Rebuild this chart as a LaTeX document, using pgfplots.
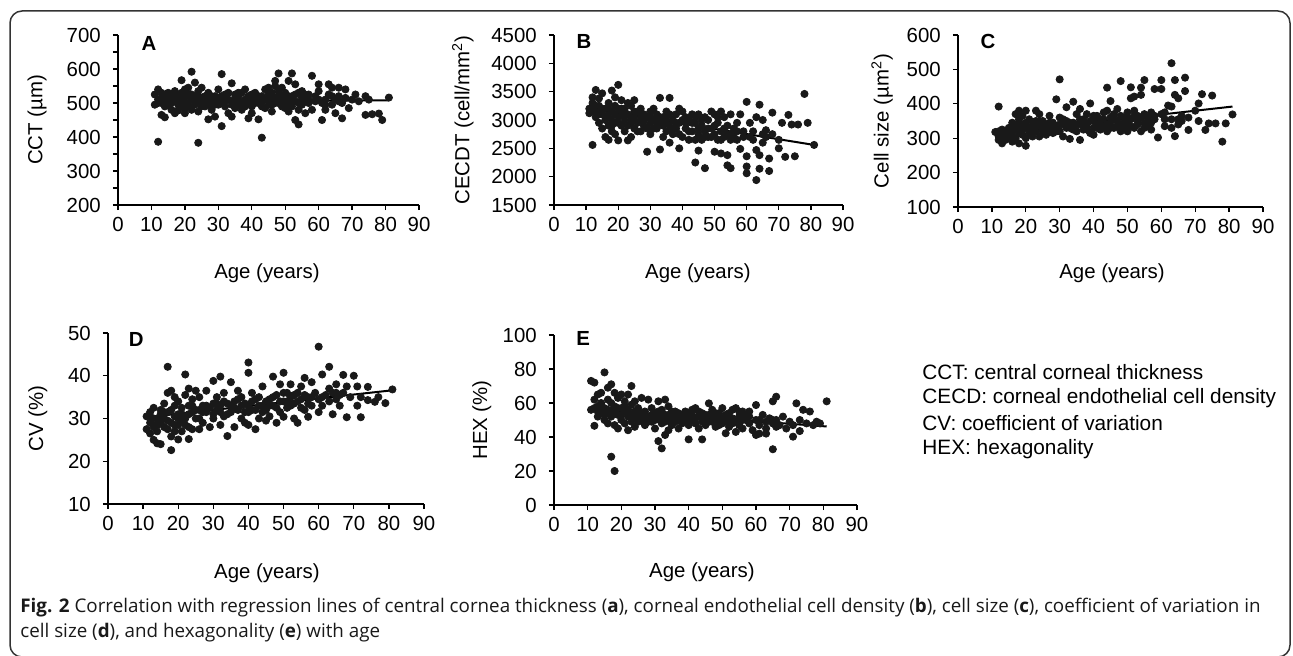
\documentclass[border=0pt]{standalone}
\usepackage{fontspec}
\setmainfont{Liberation Sans}
\newfontfamily\capfont{Open Sans}
\usepackage{pgfplots}
\usepackage{pgfplotstable}
\pgfplotsset{compat=1.18}
\newcommand{\fs}{\fontsize{10.2}{12}\selectfont}
\definecolor{dot}{gray}{0.1}
\pgfplotsset{
  panel/.style={
    scale only axis, xmin=0, xmax=90, xtick={0,10,...,90},
    axis x line*=bottom, axis y line*=left,
    axis line style={-, line width=0.65pt, black},
    tick align=outside, major tick length=2.6pt, minor tick length=2.6pt,
    tick style={black, line width=0.65pt},
    /pgf/number format/assume math mode=true,
    /pgf/number format/1000 sep={},
    tick label style={font=\fs},
    yticklabel style={xshift=-2.5pt},
    label style={font=\fs},
    clip=false,
  },
  pts/.style={only marks, mark=*, mark size=1.8pt, color=dot},
  reg/.style={no marks, line width=1pt, color=black},
}
\pgfplotstableread[row sep=\\]{x y\\
11 525\\ 11 495\\ 12 540\\ 12 510\\ 12 386\\ 13 530\\ 13 500\\ 13 465\\ 14 458\\ 14 505\\ 14 520\\ 15 495\\ 15 515\\ 16 505\\ 16 480\\ 16 525\\ 17 510\\ 17 470\\ 17 535\\ 18 495\\ 18 520\\ 18 478\\ 19 567\\ 19 505\\ 19 530\\ 19 490\\ 20 540\\ 20 515\\ 20 485\\ 20 470\\ 21 500\\ 21 525\\ 21 545\\ 22 592\\ 22 510\\ 22 480\\ 23 520\\ 23 495\\ 23 560\\ 24 383\\ 24 505\\ 24 535\\ 24 475\\ 25 545\\ 25 500\\ 25 515\\ 26 520\\ 26 490\\ 27 452\\ 27 510\\ 27 530\\ 28 500\\ 28 480\\ 29 520\\ 29 495\\ 29 460\\ 30 515\\ 30 540\\ 31 585\\ 31 432\\ 31 505\\ 32 525\\ 32 490\\ 33 510\\ 33 470\\ 34 558\\ 34 460\\ 35 505\\ 35 525\\ 35 485\\ 36 515\\ 36 495\\ 37 530\\ 37 480\\ 38 510\\ 38 540\\ 39 500\\ 39 455\\ 40 525\\ 40 490\\ 40 470\\ 41 515\\ 41 530\\ 42 500\\ 42 452\\ 43 398\\ 43 520\\ 43 505\\ 44 540\\ 44 485\\ 45 510\\ 45 525\\ 45 545\\ 46 495\\ 46 530\\ 46 475\\ 47 565\\ 47 515\\ 47 550\\ 48 587\\ 48 500\\ 48 535\\ 49 545\\ 49 490\\ 49 520\\ 50 510\\ 50 530\\ 50 485\\ 51 565\\ 51 500\\ 51 475\\ 52 587\\ 52 520\\ 52 490\\ 53 555\\ 53 450\\ 53 505\\ 54 437\\ 54 530\\ 54 480\\ 55 515\\ 55 495\\ 56 525\\ 56 470\\ 57 510\\ 57 500\\ 58 580\\ 58 480\\ 59 520\\ 59 505\\ 60 555\\ 60 535\\ 61 450\\ 61 500\\ 62 510\\ 62 480\\ 63 555\\ 63 525\\ 64 545\\ 64 495\\ 65 470\\ 65 510\\ 66 520\\ 66 545\\ 67 455\\ 67 500\\ 68 540\\ 68 515\\ 69 485\\ 70 510\\ 71 525\\ 72 505\\ 74 465\\ 74 520\\ 75 510\\ 76 467\\ 78 469\\ 79 450\\ 81 516\\
12 500\\ 13 515\\ 14 490\\ 15 530\\ 16 500\\ 17 520\\ 18 505\\ 19 515\\ 20 500\\ 21 490\\ 22 525\\ 23 505\\ 24 520\\ 25 490\\ 26 505\\ 27 495\\ 28 520\\ 29 505\\ 30 495\\ 31 520\\ 32 505\\ 33 530\\ 34 495\\ 35 515\\ 36 530\\ 37 500\\ 38 490\\ 39 520\\ 40 505\\ 41 500\\ 42 520\\ 43 490\\ 44 510\\ 45 495\\ 46 515\\ 47 500\\ 48 520\\ 49 505\\ 50 495\\ 51 520\\ 52 505\\ 53 525\\ 54 500\\ 55 535\\ 56 505\\ 57 525\\ 60 510\\ 62 495\\ 64 520\\ 66 505\\
}\dataA
\pgfplotstableread[row sep=\\]{x y\\
11 3200\\ 11 3120\\ 12 3400\\ 12 2560\\ 12 3300\\ 13 3530\\ 13 3150\\ 13 3050\\ 14 3250\\ 14 2950\\ 14 3380\\ 15 3470\\ 15 3100\\ 15 2850\\ 16 2700\\ 16 3200\\ 16 3000\\ 17 2650\\ 17 3300\\ 17 2900\\ 17 3100\\ 18 3520\\ 18 2800\\ 18 3000\\ 18 3150\\ 19 3400\\ 19 2750\\ 19 2950\\ 19 3250\\ 20 3620\\ 20 2640\\ 20 3050\\ 20 3200\\ 21 2900\\ 21 3350\\ 21 3100\\ 22 3000\\ 22 2800\\ 22 3200\\ 23 3300\\ 23 2640\\ 23 3100\\ 24 2950\\ 24 3250\\ 24 2700\\ 25 3350\\ 25 3050\\ 25 2850\\ 26 3150\\ 26 2950\\ 27 3000\\ 27 2800\\ 27 3200\\ 28 3100\\ 28 2900\\ 29 2440\\ 29 3050\\ 30 2950\\ 30 3150\\ 30 2750\\ 31 3000\\ 31 3200\\ 32 2850\\ 32 3100\\ 33 3390\\ 33 2480\\ 33 2950\\ 34 3050\\ 34 2700\\ 35 2800\\ 35 3150\\ 36 3390\\ 36 2600\\ 36 2900\\ 37 3000\\ 37 2750\\ 38 3100\\ 38 2850\\ 39 2500\\ 39 3200\\ 39 2950\\ 40 3150\\ 40 2700\\ 41 3050\\ 41 2850\\ 42 3000\\ 42 2650\\ 43 3100\\ 43 2800\\ 44 2650\\ 44 2950\\ 44 2250\\ 45 2460\\ 45 3100\\ 45 2750\\ 46 2900\\ 46 2650\\ 47 2150\\ 47 3050\\ 47 2800\\ 48 3000\\ 48 2700\\ 49 3150\\ 49 2850\\ 50 2440\\ 50 3100\\ 50 2750\\ 51 2950\\ 51 2650\\ 52 3150\\ 52 2410\\ 52 2800\\ 53 3050\\ 53 2700\\ 54 2200\\ 54 2900\\ 54 2380\\ 55 2150\\ 55 3100\\ 55 2750\\ 56 2850\\ 57 2950\\ 57 2650\\ 58 2490\\ 58 3100\\ 59 2800\\ 60 3320\\ 60 2360\\ 60 2180\\ 60 2060\\ 61 2700\\ 61 2950\\ 62 2800\\ 63 2470\\ 63 1940\\ 63 3050\\ 64 2380\\ 64 3270\\ 64 2140\\ 65 2750\\ 65 3000\\ 66 2820\\ 67 2320\\ 67 2100\\ 68 3130\\ 68 2750\\ 70 2500\\ 70 2650\\ 71 2950\\ 72 2350\\ 73 3090\\ 74 2920\\ 75 2360\\ 76 2920\\ 78 3460\\ 79 2950\\ 81 2560\\
12 3150\\ 13 3250\\ 14 3100\\ 15 3200\\ 16 3050\\ 17 3200\\ 18 2900\\ 19 3100\\ 20 2950\\ 21 3200\\ 22 3100\\ 23 2900\\ 24 3050\\ 25 3150\\ 26 2800\\ 27 3100\\ 28 3000\\ 29 2850\\ 30 3050\\ 31 2850\\ 32 2950\\ 33 3050\\ 34 2900\\ 35 3000\\ 36 3100\\ 37 2850\\ 38 2950\\ 39 2750\\ 40 3000\\ 41 2950\\ 42 2800\\ 43 2950\\ 44 3050\\ 45 2850\\ 46 3000\\ 47 2700\\ 48 2850\\ 49 2700\\ 50 2900\\ 51 3050\\ 52 2650\\ 53 2850\\ 54 2750\\ 55 2650\\ 56 2700\\ 57 2800\\ 59 2700\\ 62 2650\\ 65 2600\\ 66 2700\\
}\dataB
\pgfplotstableread[row sep=\\]{x y\\
11 318\\ 12 320\\ 12 392\\ 12 295\\ 13 285\\ 13 310\\ 14 305\\ 14 320\\ 15 300\\ 15 330\\ 16 310\\ 16 345\\ 16 290\\ 17 370\\ 17 325\\ 17 300\\ 18 355\\ 18 335\\ 18 285\\ 18 380\\ 19 310\\ 19 340\\ 19 365\\ 20 278\\ 20 330\\ 20 380\\ 20 300\\ 21 355\\ 21 315\\ 22 340\\ 22 305\\ 23 320\\ 23 380\\ 23 350\\ 24 305\\ 24 335\\ 24 370\\ 25 320\\ 25 350\\ 26 340\\ 26 310\\ 27 365\\ 27 330\\ 28 345\\ 28 315\\ 29 413\\ 29 335\\ 30 471\\ 30 360\\ 30 320\\ 31 340\\ 31 305\\ 32 390\\ 32 350\\ 33 298\\ 33 330\\ 34 406\\ 34 345\\ 35 320\\ 35 370\\ 36 295\\ 36 385\\ 36 340\\ 37 355\\ 37 325\\ 38 340\\ 38 370\\ 39 315\\ 39 401\\ 40 350\\ 40 310\\ 40 330\\ 41 365\\ 41 340\\ 42 325\\ 42 355\\ 43 375\\ 43 335\\ 44 447\\ 44 380\\ 44 320\\ 45 345\\ 45 408\\ 45 360\\ 46 330\\ 46 370\\ 47 350\\ 47 385\\ 48 466\\ 48 340\\ 48 320\\ 49 360\\ 49 330\\ 50 375\\ 50 320\\ 50 345\\ 51 448\\ 51 416\\ 51 355\\ 52 421\\ 52 380\\ 52 330\\ 53 365\\ 53 340\\ 54 447\\ 54 426\\ 54 320\\ 55 469\\ 55 370\\ 55 345\\ 56 335\\ 57 375\\ 57 325\\ 58 443\\ 58 355\\ 59 302\\ 60 443\\ 60 469\\ 60 370\\ 61 335\\ 61 355\\ 62 395\\ 63 518\\ 63 392\\ 63 330\\ 64 426\\ 64 469\\ 64 306\\ 65 416\\ 65 355\\ 66 350\\ 67 437\\ 67 476\\ 68 324\\ 68 360\\ 70 380\\ 71 401\\ 71 350\\ 72 428\\ 73 324\\ 74 343\\ 75 424\\ 76 343\\ 78 290\\ 79 343\\ 81 369\\
12 305\\ 13 325\\ 14 295\\ 15 315\\ 16 325\\ 17 340\\ 18 315\\ 19 325\\ 20 345\\ 21 330\\ 22 320\\ 23 335\\ 24 350\\ 25 335\\ 26 325\\ 27 345\\ 28 330\\ 29 320\\ 30 340\\ 31 355\\ 32 330\\ 33 345\\ 34 325\\ 35 340\\ 36 355\\ 37 340\\ 38 325\\ 39 350\\ 40 365\\ 41 330\\ 42 345\\ 43 355\\ 44 340\\ 45 330\\ 46 355\\ 47 335\\ 48 365\\ 49 345\\ 50 360\\ 51 335\\ 52 365\\ 53 350\\ 54 360\\ 55 330\\ 56 360\\ 57 345\\ 58 365\\ 61 375\\ 63 355\\ 65 340\\ 66 365\\
}\dataC
\pgfplotstableread[row sep=\\]{x y\\
11 27.5\\ 11 30.5\\ 12 29\\ 12 26.5\\ 12 31.5\\ 13 32.5\\ 13 28\\ 13 25\\ 14 24.2\\ 14 30\\ 14 27\\ 15 24\\ 15 31\\ 15 29\\ 16 33.5\\ 16 28\\ 16 30\\ 17 42.1\\ 17 36\\ 17 27.5\\ 17 31.5\\ 18 22.6\\ 18 36.5\\ 18 29\\ 18 25.8\\ 19 33\\ 19 27\\ 19 30.5\\ 19 35\\ 20 25.1\\ 20 31\\ 20 28.5\\ 20 34\\ 21 29.5\\ 21 32.5\\ 21 27\\ 22 40.3\\ 22 30\\ 22 35.5\\ 23 25.2\\ 23 28\\ 23 33\\ 23 37\\ 24 31.5\\ 24 27.5\\ 24 34.5\\ 25 36.5\\ 25 30\\ 26 32\\ 26 27.5\\ 26 35\\ 27 33\\ 27 29\\ 28 36.5\\ 28 31.5\\ 29 28\\ 30 33.5\\ 30 38.8\\ 30 31\\ 31 32\\ 31 35\\ 32 39.8\\ 32 28.5\\ 32 33\\ 33 30.5\\ 33 36\\ 34 25.9\\ 34 33.5\\ 35 38.5\\ 35 31.5\\ 36 28\\ 36 34\\ 37 36.5\\ 37 32\\ 38 30\\ 38 35\\ 39 33.5\\ 39 29\\ 40 43.1\\ 40 40.7\\ 40 31.5\\ 40 28.5\\ 41 34\\ 41 36\\ 42 27.5\\ 42 32\\ 43 30\\ 43 35\\ 44 33\\ 44 37.5\\ 45 29.5\\ 45 32\\ 46 34.5\\ 46 30.5\\ 47 39.8\\ 47 33\\ 48 35.5\\ 48 29\\ 49 38\\ 49 31.5\\ 50 40.7\\ 50 34\\ 50 30.4\\ 51 36\\ 51 32.5\\ 52 35\\ 52 38\\ 53 33.5\\ 53 30\\ 54 36\\ 54 29\\ 55 34.5\\ 55 37.5\\ 56 39.5\\ 56 32\\ 57 35\\ 57 30.4\\ 58 38.5\\ 58 33\\ 59 36\\ 60 46.8\\ 60 31.5\\ 60 34.5\\ 61 40.3\\ 61 33\\ 62 35.5\\ 63 42.1\\ 63 37\\ 64 36\\ 64 31\\ 65 34.5\\ 65 38\\ 66 33\\ 67 40.2\\ 67 36\\ 68 30.3\\ 68 37.5\\ 69 35\\ 70 40\\ 71 33\\ 71 37.5\\ 72 30.3\\ 72 35\\ 74 37.4\\ 74 34.3\\ 76 33.9\\ 77 35\\ 79 33.6\\ 81 36.8\\
12 30.5\\ 13 30\\ 14 28.5\\ 15 32\\ 16 31.5\\ 17 29.5\\ 18 32\\ 19 28.5\\ 20 30\\ 21 31\\ 22 28.5\\ 23 31\\ 24 33\\ 25 32\\ 26 30\\ 27 31.5\\ 28 33\\ 29 32.5\\ 30 30\\ 31 33.5\\ 32 31.5\\ 33 34\\ 34 31\\ 35 33\\ 36 32.5\\ 37 34.5\\ 38 33\\ 39 31.5\\ 40 33\\ 41 32\\ 42 34.5\\ 43 33\\ 44 31.5\\ 45 34\\ 46 33\\ 47 35\\ 48 32.5\\ 49 34\\ 50 36\\ 51 34\\ 52 33\\ 53 35.5\\ 54 34\\ 55 32.5\\ 56 35.5\\ 57 33.5\\ 58 35\\ 61 35\\ 63 34\\ 65 36\\ 66 35.5\\
}\dataD
\pgfplotstableread[row sep=\\]{x y\\
11 73\\ 11 56\\ 12 72\\ 12 62\\ 12 46.6\\ 13 58\\ 13 65\\ 13 52\\ 14 60\\ 14 54\\ 14 66\\ 15 78\\ 15 50\\ 15 57\\ 16 69\\ 16 62\\ 16 48\\ 17 71\\ 17 28.4\\ 17 55\\ 17 52\\ 18 20\\ 18 66\\ 18 58\\ 18 47\\ 19 63\\ 19 53\\ 19 45\\ 20 65\\ 20 57\\ 20 50\\ 21 61\\ 21 48\\ 21 55\\ 22 65\\ 22 52\\ 22 44\\ 23 70\\ 23 59\\ 23 49\\ 24 55\\ 24 61\\ 24 46\\ 25 53\\ 25 57\\ 26 50\\ 26 63\\ 27 55\\ 27 47\\ 28 62\\ 28 52\\ 29 49\\ 29 57\\ 30 54\\ 30 45\\ 31 37.6\\ 31 61\\ 31 51\\ 32 33.3\\ 32 56\\ 32 48\\ 33 41.2\\ 33 53\\ 33 62\\ 34 44\\ 34 58\\ 34 50\\ 35 52\\ 35 47\\ 36 55\\ 36 49\\ 37 51\\ 37 45\\ 38 53\\ 38 48\\ 39 50\\ 39 55\\ 40 38.6\\ 40 52\\ 40 47\\ 41 56\\ 41 50\\ 42 57\\ 42 48\\ 43 52\\ 43 45\\ 44 38.6\\ 44 54\\ 44 49\\ 45 51\\ 45 47\\ 46 59.8\\ 46 53\\ 47 49\\ 47 56\\ 48 51\\ 48 46\\ 49 54\\ 49 50\\ 50 57\\ 50 48\\ 51 42.2\\ 51 53\\ 52 50\\ 52 46\\ 53 56\\ 53 48\\ 54 43\\ 54 57\\ 55 52\\ 55 47\\ 56 55\\ 56 45\\ 57 50\\ 58 48\\ 58 52\\ 59 44\\ 60 58.8\\ 60 41.2\\ 60 50\\ 61 42\\ 61 47\\ 62 53\\ 63 45\\ 63 42\\ 64 51\\ 65 32.8\\ 65 61\\ 65 48\\ 66 63.7\\ 66 50\\ 67 47\\ 68 52\\ 69 45\\ 70 49\\ 71 40.2\\ 71 47\\ 72 59.8\\ 73 43.5\\ 73 50\\ 74 56\\ 75 48\\ 76 55\\ 77 47\\ 78 49\\ 79 48\\ 81 61\\
12 57\\ 13 55\\ 14 58\\ 15 53\\ 16 56\\ 17 60\\ 18 54\\ 19 57\\ 20 53\\ 21 58\\ 22 56\\ 23 53\\ 24 51\\ 25 49\\ 26 54\\ 27 51\\ 28 49\\ 29 53\\ 30 50\\ 31 55\\ 32 52\\ 33 49\\ 34 53\\ 35 55\\ 36 51\\ 37 54\\ 38 50\\ 39 52\\ 40 54\\ 41 53\\ 42 51\\ 43 55\\ 44 51\\ 45 53\\ 46 49\\ 47 52\\ 48 54\\ 49 47\\ 50 51\\ 51 49\\ 52 54\\ 53 51\\ 54 49\\ 55 55\\ 56 50\\ 57 53\\ 58 55\\ 61 50\\ 63 49\\ 65 50\\ 66 46\\
}\dataE
\begin{document}
\begin{tikzpicture}
\useasboundingbox (0,0) rectangle (646.5pt,327.5pt);
\draw[line width=0.75pt, black!80, rounded corners=6pt] (5pt,-1pt) rectangle (645pt,322pt);
% Panel A
\begin{axis}[panel, at={(59pt,225pt)}, anchor=south west, width=150.5pt, height=85pt,
  ymin=200, ymax=700, ytick={200,300,...,700}, minor y tick num=1,
  xlabel={Age (years)}, ylabel={CCT (µm)},
  xlabel style={at={(axis description cs:0.495,-0.4)}, anchor=center},
  ylabel style={at={(axis description cs:-0.269,0.5)}, anchor=center}]
\addplot[pts] table {\dataA};
\addplot[reg] coordinates {(11,503) (81,508)};
\node[font=\fs\bfseries] at (axis description cs:0.103,0.953) {A};
\end{axis}
% Panel B
\begin{axis}[panel, at={(277pt,225pt)}, anchor=south west, width=144.5pt, height=85pt,
  ymin=1500, ymax=4500, ytick={1500,2000,...,4500},
  xlabel={Age (years)}, ylabel={CECDT (cell/mm\textsuperscript{2})},
  xlabel style={at={(axis description cs:0.498,-0.4)}, anchor=center},
  ylabel style={at={(axis description cs:-0.315,0.5)}, anchor=center}]
\addplot[pts] table {\dataB};
\addplot[reg] coordinates {(11,3200) (81,2560)};
\node[font=\fs\bfseries] at (axis description cs:0.104,0.959) {B};
\end{axis}
% Panel C
\begin{axis}[panel, at={(479pt,224pt)}, anchor=south west, width=152.5pt, height=86pt,
  ymin=100, ymax=600, ytick={100,200,...,600},
  xlabel={Age (years)}, ylabel={Cell size (µm\textsuperscript{2})},
  xlabel style={at={(axis description cs:0.505,-0.384)}, anchor=center},
  ylabel style={at={(axis description cs:-0.249,0.5)}, anchor=center}]
\addplot[pts] table {\dataC};
\addplot[reg] coordinates {(11,315) (81,392)};
\node[font=\fs\bfseries] at (axis description cs:0.098,0.96) {C};
\end{axis}
% Panel D
\begin{axis}[panel, at={(54pt,75.5pt)}, anchor=south west, width=158pt, height=85.5pt,
  ymin=10, ymax=50, ytick={10,20,...,50},
  xlabel={Age (years)}, ylabel={CV (\%)},
  xlabel style={at={(axis description cs:0.503,-0.404)}, anchor=center},
  ylabel style={at={(axis description cs:-0.222,0.5)}, anchor=center}]
\addplot[pts] table {\dataD};
\addplot[reg] coordinates {(11,30.3) (81,36.6)};
\node[font=\fs\bfseries] at (axis description cs:0.089,0.965) {D};
\end{axis}
% Panel E
\begin{axis}[panel, at={(277pt,75pt)}, anchor=south west, width=151.5pt, height=85pt,
  ymin=0, ymax=100, ytick={0,20,...,100},
  xlabel={Age (years)}, ylabel={HEX (\%)},
  xlabel style={at={(axis description cs:0.488,-0.394)}, anchor=center},
  ylabel style={at={(axis description cs:-0.238,0.5)}, anchor=center}]
\addplot[pts] table {\dataE};
\addplot[reg] coordinates {(11,56.2) (81,46.2)};
\node[font=\fs\bfseries] at (axis description cs:0.096,0.982) {E};
\end{axis}
% abbreviations
\begin{scope}[every node/.style={anchor=west, inner sep=0pt, font=\fontsize{10.4}{12}\selectfont}]
\node at (461pt,141.5pt) {CCT: central corneal thickness};
\node at (461pt,128.5pt) {CECD: corneal endothelial cell density};
\node at (461pt,116pt) {CV: coefficient of variation};
\node at (461pt,103pt) {HEX: hexagonality};
\end{scope}
% caption
\begin{scope}[every node/.style={anchor=west, inner sep=0pt, text=black!90, font=\capfont\fontsize{9.4}{11}\selectfont}]
\node at (10pt,23.5pt) {\textbf{Fig. 2} Correlation with regression lines of central cornea thickness (\textbf{a}), corneal endothelial cell density (\textbf{b}), cell size (\textbf{c}), coefficient of variation in};
\node at (10pt,11pt) {cell size (\textbf{d}), and hexagonality (\textbf{e}) with age};
\end{scope}
\end{tikzpicture}
\end{document}
